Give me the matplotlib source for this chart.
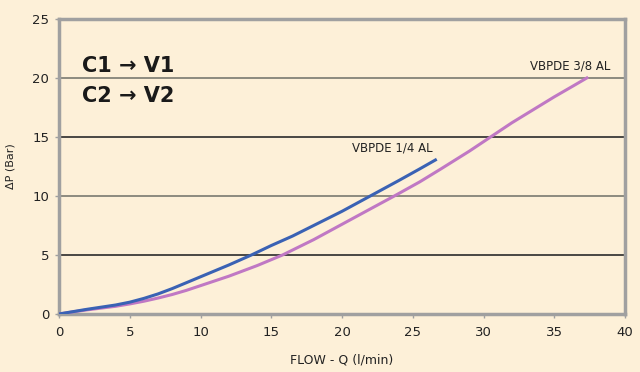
import matplotlib
matplotlib.use("Agg")
import matplotlib.pyplot as plt

# pressure drop curves
flow_14 = [0, 1, 2, 3, 4, 5, 6, 7, 8, 9, 10, 11, 12, 13.6, 15, 16.5, 18, 20, 22, 24, 25.5, 26.6]
dp_14 = [0, 0.2, 0.4, 0.58, 0.76, 1.0, 1.32, 1.7, 2.15, 2.65, 3.15, 3.65, 4.15, 5.0, 5.8, 6.6, 7.5, 8.7, 10.0, 11.3, 12.3, 13.05]

flow_38 = [0, 1, 2, 3, 4, 5, 6, 7, 8, 9, 10, 12, 14, 15.8, 18, 20, 22, 23.7, 25.5, 27, 29, 30.5, 32, 33.5, 35, 36.3, 37.3]
dp_38 = [0, 0.18, 0.35, 0.5, 0.65, 0.85, 1.08, 1.35, 1.65, 2.0, 2.4, 3.2, 4.1, 5.0, 6.3, 7.6, 8.9, 10.0, 11.2, 12.3, 13.8, 15.0, 16.2, 17.3, 18.4, 19.3, 20.0]

xticks = [0, 5, 10, 15, 20, 25, 30, 35, 40]
yticks = [0, 5, 10, 15, 20, 25]

bg = "#fdf0d8"
spine_col = "#a0a0a0"
txt = "#222222"

fig = plt.figure(figsize=(6.4, 3.72), dpi=100, facecolor=bg)
ax = fig.add_axes([0.0922, 0.156, 0.8844, 0.793], facecolor=bg)

# grid lines alternate gray / black
for y, c in zip([5, 10, 15, 20], ["#2a2a2a", "#7a7a70", "#2a2a2a", "#7a7a70"]):
    ax.axhline(y, color=c, linewidth=1.2, zorder=1)

ax.plot(flow_38, dp_38, color="#c078c4", linewidth=2.2, zorder=3)
ax.plot(flow_14, dp_14, color="#3a62b4", linewidth=2.2, zorder=4)

ax.set_xlim(0, 40)
ax.set_ylim(0, 25)
ax.set_xticks(xticks)
ax.set_yticks(yticks)
ax.tick_params(colors=spine_col, labelcolor=txt, labelsize=9.5, length=3, width=1, pad=4)
ax.tick_params(axis="x", pad=6)

for s in ax.spines.values():
    s.set_color(spine_col)
    s.set_linewidth(2.5)

ax.set_xlabel("FLOW - Q (l/min)", fontsize=9, color=txt, labelpad=10)
ax.set_ylabel("ΔP (Bar)", fontsize=8, color=txt, labelpad=12)

ax.text(26.4, 13.5, "VBPDE 1/4 AL", fontsize=8.5, color=txt, ha="right", va="bottom")
ax.text(39.0, 20.5, "VBPDE 3/8 AL", fontsize=8.5, color=txt, ha="right", va="bottom")

ax.text(1.6, 20.2, "C1 \u2192 V1", fontsize=15, fontweight="bold", color="#1a1a1a", va="bottom")
ax.text(1.6, 17.6, "C2 \u2192 V2", fontsize=15, fontweight="bold", color="#1a1a1a", va="bottom")

plt.savefig("out.png", dpi=100, facecolor=bg)
